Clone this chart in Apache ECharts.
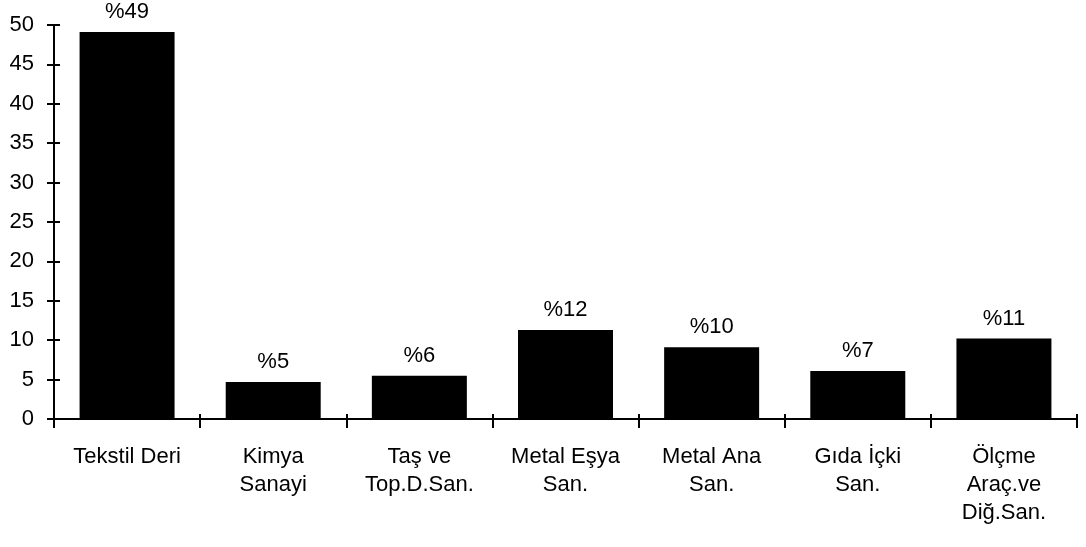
<!DOCTYPE html>
<html>
<head>
<meta charset="utf-8">
<script src="https://cdn.jsdelivr.net/npm/echarts@6/dist/echarts.min.js"></script>
<style>html,body{margin:0;padding:0;background:#fff}#c{width:1086px;height:547px}</style>
</head>
<body>
<div id="c"></div>
<script>
const categories = ['Tekstil Deri', 'Kimya\nSanayi', 'Taş ve\nTop.D.San.', 'Metal Eşya\nSan.', 'Metal Ana\nSan.', 'Gıda İçki\nSan.', 'Ölçme\nAraç.ve\nDiğ.San.'];
const values = [49.1, 4.7, 5.5, 11.3, 9.1, 6.1, 10.2];
const valueLabels = ['%49', '%5', '%6', '%12', '%10', '%7', '%11'];
const yTicks = [0, 5, 10, 15, 20, 25, 30, 35, 40, 45, 50];

const chart = echarts.init(document.getElementById('c'));
const font = 'Liberation Sans, Arial, sans-serif';
const yMin = yTicks[0], yMax = yTicks[yTicks.length - 1];
chart.setOption({
  animation: false,
  grid: {left: 54, right: 9, top: 25, bottom: 128},
  xAxis: [{
    type: 'category',
    data: categories,
    axisLine: {lineStyle: {color: '#000', width: 2}},
    axisTick: {show: true, alignWithLabel: false, length: 9, lineStyle: {color: '#000', width: 2}},
    axisLabel: {color: '#000', fontFamily: font, fontSize: 22, lineHeight: 28, margin: 24, interval: 0}
  }, {
    type: 'category',
    data: categories,
    position: 'bottom',
    axisLine: {show: false},
    axisTick: {show: true, inside: true, length: 5, lineStyle: {color: '#000', width: 2}},
    axisLabel: {show: false}
  }],
  yAxis: [{
    type: 'value',
    min: yMin,
    max: yMax,
    interval: 5,
    splitLine: {show: false},
    axisLine: {show: true, lineStyle: {color: '#000', width: 2}},
    axisTick: {show: true, length: 7, lineStyle: {color: '#000', width: 2}},
    axisLabel: {color: '#000', fontFamily: font, fontSize: 22, margin: 20}
  }, {
    type: 'value',
    min: yMin,
    max: yMax,
    interval: 5,
    position: 'left',
    splitLine: {show: false},
    axisLine: {show: false},
    axisTick: {show: true, inside: true, length: 6, lineStyle: {color: '#000', width: 2}},
    axisLabel: {show: false}
  }],
  series: [{
    type: 'bar',
    xAxisIndex: 0,
    yAxisIndex: 0,
    data: values,
    barWidth: '65%',
    itemStyle: {color: '#000'},
    label: {
      show: true,
      position: 'top',
      distance: 9,
      color: '#000',
      fontFamily: font,
      fontSize: 22,
      formatter: p => valueLabels[p.dataIndex]
    }
  }]
});
</script>
</body>
</html>
